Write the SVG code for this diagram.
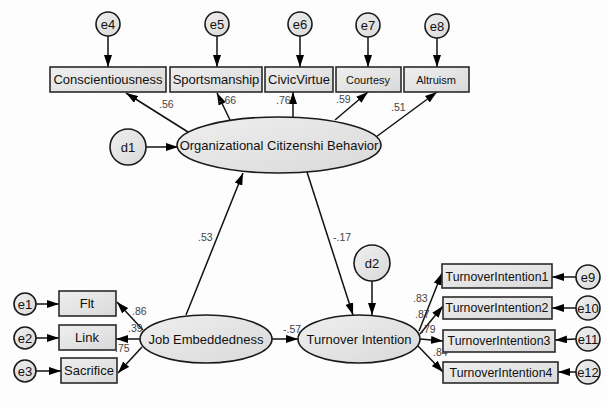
<svg xmlns="http://www.w3.org/2000/svg" width="607" height="407" viewBox="0 0 607 407">
<style>
.bx{fill:url(#g);stroke:#2a2a2a;stroke-width:1.6}
.el{fill:url(#g);stroke:#1a1a1a;stroke-width:1.6}
.t{font-family:"Liberation Sans",Arial,sans-serif;font-size:13px;fill:#111;text-anchor:middle}
.s{font-size:11px}
.m{font-size:12.3px}
.c{font-family:"Liberation Sans",Arial,sans-serif;font-size:10.5px;fill:#444}
.ln{stroke:#111;stroke-width:1.5;fill:none;marker-end:url(#a)}
</style>
<defs>
<linearGradient id="g" x1="0" y1="0" x2="1" y2="1">
<stop offset="0" stop-color="#efefef"/>
<stop offset="1" stop-color="#d9d9d9"/>
</linearGradient>
<marker id="a" viewBox="0 0 12 8" refX="12" refY="4" markerWidth="12" markerHeight="8" orient="auto" markerUnits="userSpaceOnUse">
<path d="M0,0 L12,4 L0,8 z" fill="#000"/>
</marker>
</defs>
<rect width="607" height="407" fill="#fdfdfd"/>
<g id="connectors">
<line class="ln" x1="108" y1="36" x2="108" y2="67"/>
<line class="ln" x1="217" y1="36" x2="217" y2="67"/>
<line class="ln" x1="300" y1="36" x2="300" y2="67"/>
<line class="ln" x1="368" y1="36" x2="368" y2="67"/>
<line class="ln" x1="437" y1="38" x2="437" y2="67"/>
<line class="ln" x1="188" y1="132" x2="126" y2="93"/>
<line class="ln" x1="230" y1="120" x2="217" y2="93"/>
<line class="ln" x1="293" y1="118" x2="293" y2="92"/>
<line class="ln" x1="335" y1="120" x2="368" y2="92"/>
<line class="ln" x1="376" y1="137" x2="437" y2="92"/>
<line class="ln" x1="146" y1="147" x2="178" y2="147"/>
<line class="ln" x1="186" y1="315" x2="243" y2="173"/>
<line class="ln" x1="307" y1="172" x2="353" y2="315"/>
<line class="ln" x1="372" y1="281" x2="372" y2="315"/>
<line class="ln" x1="272" y1="339" x2="298" y2="339"/>
<line class="ln" x1="143" y1="330" x2="117" y2="302"/>
<line class="ln" x1="140" y1="339" x2="116" y2="339"/>
<line class="ln" x1="142" y1="347" x2="118" y2="373"/>
<line class="ln" x1="36" y1="304" x2="59" y2="304"/>
<line class="ln" x1="36" y1="338" x2="59" y2="338"/>
<line class="ln" x1="36" y1="371" x2="61" y2="371"/>
<line class="ln" x1="419" y1="331" x2="442" y2="273"/>
<line class="ln" x1="420" y1="334" x2="443" y2="306"/>
<line class="ln" x1="420" y1="339" x2="443" y2="341"/>
<line class="ln" x1="418" y1="346" x2="443" y2="372"/>
<line class="ln" x1="576" y1="277" x2="552" y2="277"/>
<line class="ln" x1="576" y1="308" x2="552" y2="308"/>
<line class="ln" x1="576" y1="339" x2="555" y2="340"/>
<line class="ln" x1="576" y1="372" x2="558" y2="372"/>
<text class="c" x="159" y="108">.56</text>
<text class="c" x="218" y="104">-.66</text>
<text class="c" x="276" y="104">.76</text>
<text class="c" x="336" y="103">.59</text>
<text class="c" x="391" y="111">.51</text>
<text class="c" x="198" y="241">.53</text>
<text class="c" x="333" y="241">-.17</text>
<text class="c" x="283" y="333">-.57</text>
<text class="c" x="132" y="315">.86</text>
<text class="c" x="128" y="332">.39</text>
<text class="c" x="115" y="352">.75</text>
<text class="c" x="413" y="302">.83</text>
<text class="c" x="415" y="318">.87</text>
<text class="c" x="421" y="333">.79</text>
<text class="c" x="433" y="356">.84</text>
</g>
<g id="e4"><circle class="el" cx="108" cy="24" r="12"/><text class="t" x="108" y="29">e4</text></g>
<g id="e5"><circle class="el" cx="217" cy="24" r="12"/><text class="t" x="217" y="29">e5</text></g>
<g id="e6"><circle class="el" cx="300" cy="24" r="12"/><text class="t" x="300" y="29">e6</text></g>
<g id="e7"><circle class="el" cx="368" cy="25" r="12"/><text class="t" x="368" y="30">e7</text></g>
<g id="e8"><circle class="el" cx="437" cy="26" r="12"/><text class="t" x="437" y="31">e8</text></g>
<g id="conscientiousness"><rect class="bx" x="50" y="67" width="116" height="25"/><text class="t" x="108" y="84">Conscientiousness</text></g>
<g id="sportsmanship"><rect class="bx" x="170" y="67" width="92" height="25"/><text class="t" x="216" y="84">Sportsmanship</text></g>
<g id="civicvirtue"><rect class="bx" x="265" y="67" width="68" height="25"/><text class="t" x="299" y="84">CivicVirtue</text></g>
<g id="courtesy"><rect class="bx" x="336" y="67" width="65" height="25"/><text class="t s" x="368" y="84">Courtesy</text></g>
<g id="altruism"><rect class="bx" x="404" y="67" width="65" height="25"/><text class="t s" x="436" y="84">Altruism</text></g>
<g id="d1"><circle class="el" cx="128" cy="147" r="18"/><text class="t" x="128" y="152">d1</text></g>
<g id="ocb"><ellipse class="el" cx="279" cy="145" rx="102" ry="28"/><text class="t" x="279" y="150">Organizational Citizenshi Behavior</text></g>
<g id="d2"><circle class="el" cx="372" cy="263" r="18"/><text class="t" x="372" y="268">d2</text></g>
<g id="je"><ellipse class="el" cx="206" cy="339" rx="66" ry="24"/><text class="t" x="206" y="344">Job Embeddedness</text></g>
<g id="ti"><ellipse class="el" cx="359" cy="339" rx="61" ry="24"/><text class="t" x="359" y="344">Turnover Intention</text></g>
<g id="fit"><rect class="bx" x="59" y="291" width="57" height="25"/><text class="t" x="87" y="308">Flt</text></g>
<g id="link"><rect class="bx" x="59" y="325" width="57" height="25"/><text class="t" x="87" y="342">Link</text></g>
<g id="sacrifice"><rect class="bx" x="61" y="358" width="56" height="25"/><text class="t" x="89" y="375">Sacrifice</text></g>
<g id="e1"><circle class="el" cx="25" cy="304" r="11"/><text class="t" x="25" y="309">e1</text></g>
<g id="e2"><circle class="el" cx="25" cy="338" r="11"/><text class="t" x="25" y="343">e2</text></g>
<g id="e3"><circle class="el" cx="25" cy="371" r="11"/><text class="t" x="25" y="376">e3</text></g>
<g id="ti1"><rect class="bx" x="442" y="264" width="110" height="24"/><text class="t m" x="497" y="281">TurnoverIntention1</text></g>
<g id="ti2"><rect class="bx" x="443" y="297" width="109" height="22"/><text class="t m" x="497" y="312">TurnoverIntention2</text></g>
<g id="ti3"><rect class="bx" x="443" y="330" width="112" height="22"/><text class="t m" x="499" y="345">TurnoverIntention3</text></g>
<g id="ti4"><rect class="bx" x="443" y="362" width="115" height="21"/><text class="t m" x="501" y="377">TurnoverIntention4</text></g>
<g id="e9"><circle class="el" cx="588" cy="277" r="12"/><text class="t" x="588" y="282">e9</text></g>
<g id="e10"><circle class="el" cx="588" cy="308" r="12"/><text class="t" x="588" y="313">e10</text></g>
<g id="e11"><circle class="el" cx="588" cy="339" r="12"/><text class="t" x="588" y="344">e11</text></g>
<g id="e12"><circle class="el" cx="588" cy="372" r="12"/><text class="t" x="588" y="377">e12</text></g>
</svg>
